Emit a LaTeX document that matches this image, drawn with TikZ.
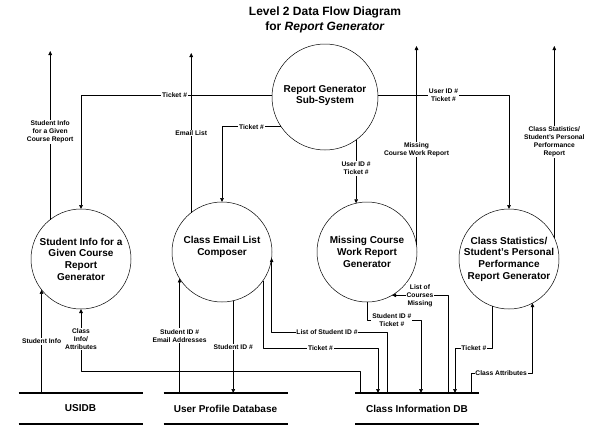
\documentclass[tikz,border=0pt]{standalone}
\usepackage{fontspec}
\setmainfont{Liberation Sans}
\usetikzlibrary{arrows.meta,positioning,calc}

\tikzset{
  proc/.style={draw, circle, minimum size=100pt, inner sep=0pt, outer sep=0pt, line width=0.5pt},
  proctext/.style={font=\fontsize{10}{11.7}\selectfont\bfseries, align=center, inner sep=0pt},
  store/.style={minimum width=124pt, minimum height=31pt, inner sep=0pt, outer sep=0pt,
    font=\fontsize{10}{12}\selectfont\bfseries},
  storeline/.style={line width=2.3pt},
  flow/.style={line width=0.5pt, -{Triangle[length=4pt,width=3.6pt]}},
  lbl/.style={fill=white, inner sep=0.8pt, align=center,
    font=\fontsize{6.7}{8}\selectfont\bfseries},
}

\begin{document}
\begin{tikzpicture}[x=1pt, y=-1pt, line join=round]
\useasboundingbox (0,0) rectangle (598,434);
\node[align=center, font=\fontsize{12}{14.5}\selectfont\bfseries] (title) at (325,20)
  {Level 2 Data Flow Diagram\\for \textit{Report Generator}};
% processes
\node[proc, minimum size=106pt, label={[proctext,yshift=1.5pt]center:Report Generator\\Sub-System}] (rgs) at (325,97) {};
\node[proc, label={[proctext]center:Student Info for a\\Given Course\\Report\\Generator}] (sinfo) at (81,259) {};
\node[proc, label={[proctext,yshift=5pt]center:Class Email List\\Composer}] (email) at (222,252) {};
\node[proc, label={[proctext]center:Missing Course\\Work Report\\Generator}] (missing) at (367,252) {};
\node[proc, label={[proctext]center:Class Statistics/\\Student's Personal\\Performance\\Report Generator}] (stats) at (509,259) {};
% data stores
\node[store] (usidb) at (80.5,408.5) {USIDB};
\node[store] (updb)  at (225.5,408.5) {User Profile Database};
\node[store] (cidb)  at (417,408.5) {Class Information DB};
\foreach \s in {usidb,updb,cidb}
  \draw[storeline] (\s.north west) -- (\s.north east) (\s.south west) -- (\s.south east);
% outputs at the top
\coordinate (outl) at (0,51);
\coordinate (outr) at (0,46);
\draw[flow] (sinfo.128.5) -- node[lbl,pos=0.52]{Student Info\\for a Given\\Course Report} (sinfo.128.5 |- outl);
\draw[flow] (email.128.5) -- node[lbl,pos=0.5]{Email List} ($(email.128.5 |- outl)+(0,2)$);
\draw[flow] (missing.8) -- node[lbl,pos=0.48]{Missing\\Course Work Report} (missing.8 |- outr);
\draw[flow] (stats.25) -- node[lbl,pos=0.5]{Class Statistics/\\Student's Personal\\Performance\\Report} (stats.25 |- outr);
% from the sub-system
\draw[flow] (rgs.178) -- node[lbl,pos=0.51]{Ticket \#} (sinfo.north |- rgs.178) -- (sinfo.north);
\draw[flow] (rgs.214) -- node[lbl,pos=0.5]{Ticket \#} (email.north |- rgs.214) -- (email.north);
\draw[flow] (rgs.-54) -- node[lbl,pos=0.45]{User ID \#\\Ticket \#} (rgs.-54 |- missing.103);
\draw[flow] (rgs.2) -- node[lbl,pos=0.5]{User ID \#\\Ticket \#} (stats.north |- rgs.2) -- (stats.north);
% stores and processes
\draw[flow] (sinfo.218.5 |- usidb.north) -- node[lbl,pos=0.5]{Student Info} (sinfo.218.5);
\draw[flow] ($(cidb.north west)+(5,0)$) -- ++(0,-22) -| node[lbl,pos=0.76]{Class\\Info/\\Attributes} (sinfo.south);
\draw[flow] (email.212.7 |- updb.north) -- node[lbl,pos=0.5]{Student ID \#\\Email Addresses} (email.212.7);
\draw[flow] (email.-77) -- node[lbl,pos=0.5]{Student ID \#} (email.-77 |- updb.north);
\draw[flow] ($(cidb.north west)+(32,0)$) -- ++(0,-61) -| node[lbl,pos=0.26]{List of Student ID \#} (email.-7);
\draw[flow] (email.-35) |- node[lbl,pos=0.75]{Ticket \#} ($(cidb.north west)+(23,-45)$) -- ($(cidb.north west)+(23,0)$);
\draw[flow] (missing.south) -- ++(0,18) -| node[lbl,pos=0.23]{Student ID \#\\Ticket \#} ($(cidb.north west)+(66,0)$);
\draw[flow] ($(cidb.north west)+(93,0)$) |- node[lbl,pos=0.75]{List of\\Courses\\Missing} (missing.-60);
\draw[flow] (stats.-109) |- node[lbl,pos=0.75]{Ticket \#} ($(cidb.north west)+(100,-45)$) -- ($(cidb.north west)+(100,0)$);
\draw[flow] ($(cidb.north west)+(116,0)$) -- ++(0,-20) -| node[lbl,pos=0.245]{Class Attributes} (stats.-62);
\end{tikzpicture}
\end{document}
